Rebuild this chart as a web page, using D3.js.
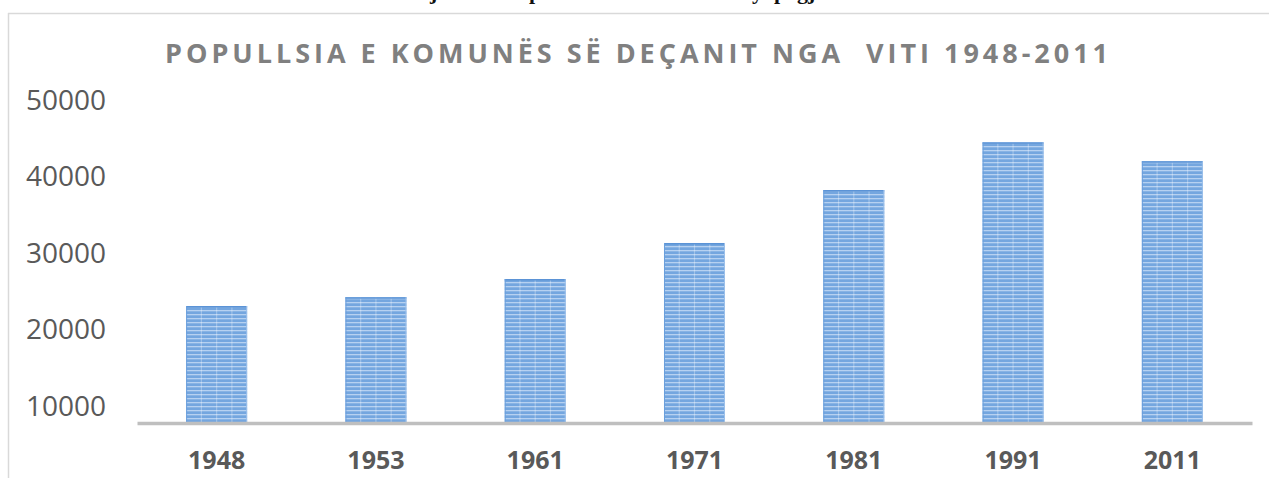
<!DOCTYPE html>
<html>
<head>
<meta charset="utf-8">
<script src="https://cdn.jsdelivr.net/npm/d3@7/dist/d3.min.js"></script>
<style>
  html, body { margin: 0; padding: 0; background: #fff; }
  svg { display: block; }
</style>
</head>
<body>
<svg id="chart" width="1269" height="478"></svg>
<script>
// ---- data ----
const years = ["1948", "1953", "1961", "1971", "1981", "1991", "2011"];
const population = [22940, 24080, 26470, 31180, 38100, 44340, 41860];
const yTicks = [10000, 20000, 30000, 40000, 50000];
const titleText = "POPULLSIA E KOMUNËS SË DEÇANIT NGA  VITI 1948-2011";

const svg = d3.select("#chart");
const W = 1269, H = 478;

// fragments of the document text line above the chart (only descenders visible)
const frag = svg.append("g")
  .attr("font-family", "'Liberation Serif', serif")
  .attr("font-weight", "bold")
  .attr("font-size", 22)
  .attr("fill", "#111");
[["p", 529], ["y", 752], ["p", 774], ["gj", 797], ["j", 430]].forEach(([t, xx]) => {
  frag.append("text").attr("x", xx).attr("y", -1).text(t);
});

// chart frame
svg.append("line").attr("x1", 8).attr("x2", W).attr("y1", 13.5).attr("y2", 13.5)
  .attr("stroke", "#d9d9d9").attr("stroke-width", 1.5);
svg.append("line").attr("x1", 8.5).attr("x2", 8.5).attr("y1", 13).attr("y2", H)
  .attr("stroke", "#d9d9d9").attr("stroke-width", 1.5);

// scales
const x = d3.scaleBand().domain(years).range([137, 1252]).paddingInner(0.617).paddingOuter(0.3085);
const y = d3.scaleLinear().domain([7650, 50000]).range([423, 99]);

// pattern for bars
const defs = svg.append("defs");
const pat = defs.append("pattern").attr("id", "stripes")
  .attr("patternUnits", "userSpaceOnUse").attr("width", 8).attr("height", 4);
pat.append("rect").attr("width", 8).attr("height", 4).attr("fill", "#74a6df");
pat.append("rect").attr("y", 2).attr("width", 8).attr("height", 1.3).attr("fill", "#b6d1f1");

// bars
const bars = svg.append("g");
bars.selectAll("rect.bar").data(years).join("rect")
  .attr("class", "bar")
  .attr("x", d => x(d))
  .attr("y", (d, i) => y(population[i]))
  .attr("width", x.bandwidth())
  .attr("height", (d, i) => y(7650) - y(population[i]))
  .attr("fill", "url(#stripes)");
// faint vertical texture lines and top edge
years.forEach((d, i) => {
  [0.25, 0.5, 0.75].forEach(f => {
    bars.append("line")
      .attr("x1", x(d) + x.bandwidth() * f).attr("x2", x(d) + x.bandwidth() * f)
      .attr("y1", y(population[i])).attr("y2", y(7650))
      .attr("stroke", "#ffffff").attr("stroke-opacity", 0.3).attr("stroke-width", 1.2);
  });
  bars.append("line")
    .attr("x1", x(d)).attr("x2", x(d) + x.bandwidth())
    .attr("y1", y(population[i]) + 0.75).attr("y2", y(population[i]) + 0.75)
    .attr("stroke", "#5b93d6").attr("stroke-width", 1.5);
  bars.append("line")
    .attr("x1", x(d) + 0.5).attr("x2", x(d) + 0.5)
    .attr("y1", y(population[i])).attr("y2", y(7650))
    .attr("stroke", "#6b9fdc").attr("stroke-width", 1);
  bars.append("line")
    .attr("x1", x(d) + x.bandwidth() - 0.5).attr("x2", x(d) + x.bandwidth() - 0.5)
    .attr("y1", y(population[i])).attr("y2", y(7650))
    .attr("stroke", "#9cc0ea").attr("stroke-width", 1);
});

// y axis labels
const yAxis = d3.axisLeft(y).tickValues(yTicks).tickSize(0).tickPadding(0).tickFormat(d3.format("d"));
const gy = svg.append("g").attr("transform", "translate(26,0)").call(yAxis);
gy.select(".domain").remove();
gy.selectAll("text")
  .attr("text-anchor", "start")
  .attr("dy", "0.36em")
  .attr("font-family", "'Open Sans', sans-serif")
  .attr("font-size", 28)
  .attr("fill", "#595959");

// x axis
const xAxis = d3.axisBottom(x).tickSize(0).tickPadding(0);
const gx = svg.append("g").attr("transform", `translate(0,${y(7650)})`).call(xAxis);
gx.select(".domain").attr("stroke", "#bfbfbf").attr("stroke-width", 3.5);
gx.selectAll("text")
  .attr("y", 46)
  .attr("dy", 0)
  .attr("font-family", "'Open Sans', sans-serif")
  .attr("font-weight", "bold")
  .attr("font-size", 25)
  .attr("fill", "#595959");

// title
const title = svg.append("text")
  .attr("x", 165).attr("y", 63)
  .attr("font-family", "'Open Sans', sans-serif")
  .attr("font-weight", "bold")
  .attr("font-size", 27)
  .attr("fill", "#808080")
  .style("white-space", "pre")
  .attr("xml:space", "preserve")
  .text(titleText);
const target = 1108 - 165;
const n = titleText.length;
const base = title.node().getComputedTextLength();
const ls = (target - base) / (n - 1);
title.attr("letter-spacing", ls);
</script>
</body>
</html>
